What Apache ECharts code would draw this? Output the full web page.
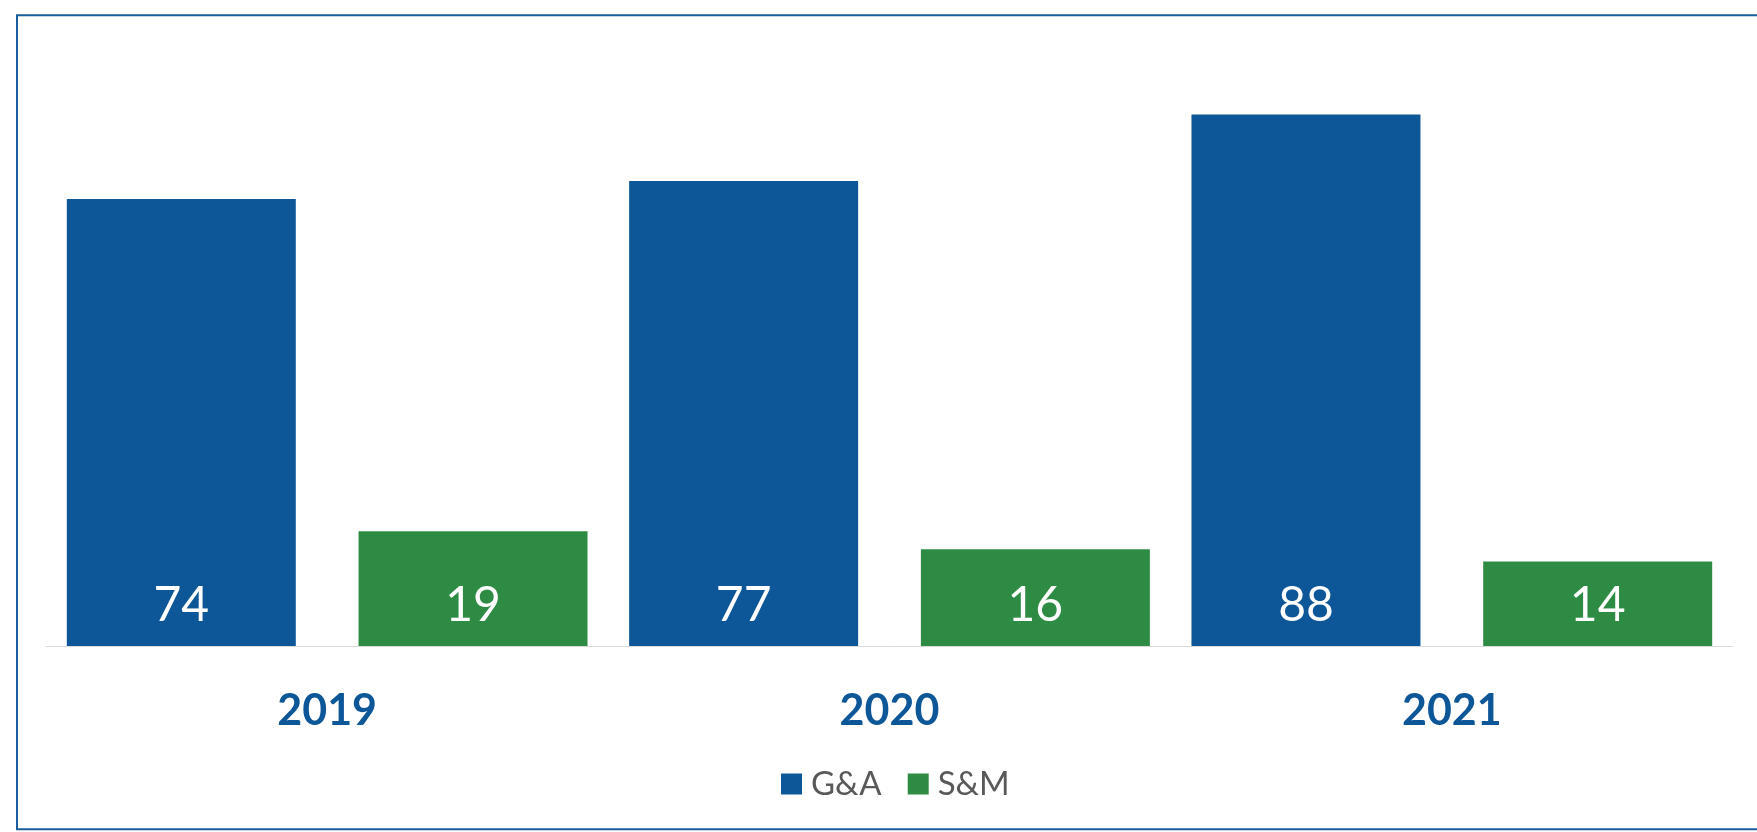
<!DOCTYPE html>
<html>
<head>
<meta charset="utf-8">
<script src="https://cdn.jsdelivr.net/npm/echarts@6/dist/echarts.min.js"></script>
<style>
  html, body { margin: 0; padding: 0; background: #ffffff; }
  #chart { width: 1757px; height: 832px; }
</style>
</head>
<body>
<div id="chart"></div>
<script>
// Fiscal years on the category axis
const years = ['2019', '2020', '2021'];
// General & administrative expense
const gaValues = [74, 77, 88];
// Sales & marketing expense
const smValues = [19, 16, 14];
const seriesNames = ['G&A', 'S&M'];

const BLUE = '#0D5698';
const GREEN = '#2E8B44';
const FONT = 'Lato, "Open Sans", "Noto Sans", sans-serif';

const chart = echarts.init(document.getElementById('chart'), null, { renderer: 'canvas' });

const valueLabel = {
  show: true,
  position: 'insideBottom',
  distance: 16,
  color: '#ffffff',
  fontFamily: FONT,
  fontSize: 48,
  lineHeight: 48
};

chart.setOption({
  animation: false,
  backgroundColor: '#ffffff',
  graphic: [{
    type: 'rect',
    silent: true,
    shape: { x: 17, y: 15.3, width: 1800, height: 814 },
    style: { fill: 'none', stroke: '#1A5E9E', lineWidth: 2 }
  }],
  grid: { left: 46, right: 24, top: 42, bottom: 186, containLabel: false },
  legend: {
    data: seriesNames,
    left: 781,
    top: 767,
    padding: 0,
    itemWidth: 21,
    itemHeight: 21,
    itemGap: 26,
    icon: 'rect',
    textStyle: {
      color: '#595959',
      fontFamily: FONT,
      fontSize: 33,
      lineHeight: 34,
      padding: [0, 0, 0, 4]
    }
  },
  xAxis: {
    type: 'category',
    data: years,
    axisLine: { show: true, lineStyle: { color: '#D9D9D9', width: 1 } },
    axisTick: { show: false },
    axisLabel: {
      margin: 44,
      color: BLUE,
      fontFamily: FONT,
      fontWeight: 'bold',
      fontSize: 43,
      lineHeight: 43
    }
  },
  yAxis: {
    type: 'value',
    min: 0,
    max: 100,
    show: false,
    splitLine: { show: false }
  },
  series: [
    {
      name: seriesNames[0],
      type: 'bar',
      data: gaValues,
      barGap: '27.4%',
      barCategoryGap: '7.4%',
      itemStyle: { color: BLUE },
      label: valueLabel
    },
    {
      name: seriesNames[1],
      type: 'bar',
      data: smValues,
      barGap: '27.4%',
      barCategoryGap: '7.4%',
      itemStyle: { color: GREEN },
      label: valueLabel
    }
  ]
});
</script>
</body>
</html>
